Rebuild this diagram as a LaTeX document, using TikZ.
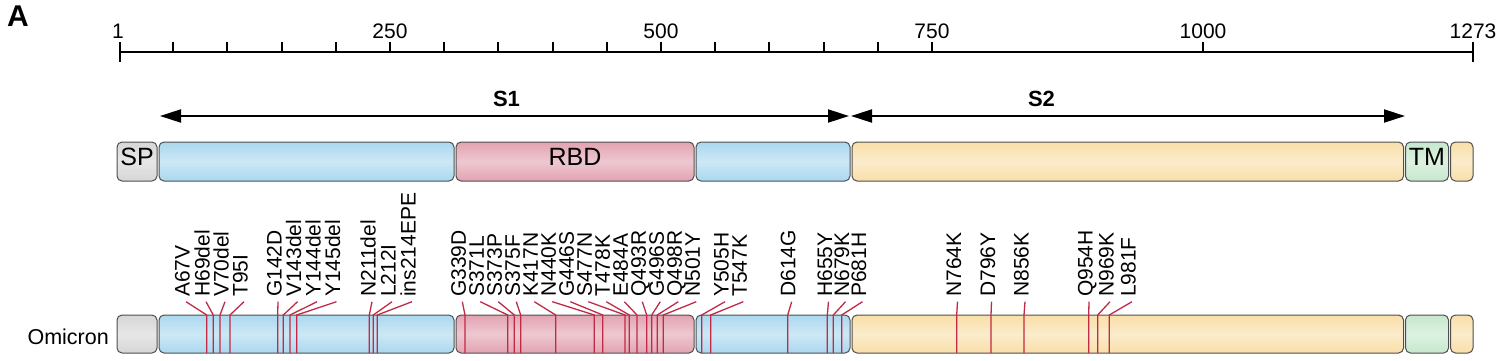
\documentclass[tikz,border=0pt]{standalone}
\usepackage{fontspec}
\setmainfont{Liberation Sans}
\usetikzlibrary{arrows.meta}
\definecolor{cgray}{HTML}{D6D6D6}
\definecolor{cblue}{HTML}{ABD8EF}
\definecolor{cpink}{HTML}{E2A3B1}
\definecolor{cyel}{HTML}{F9DFA9}
\definecolor{cgreen}{HTML}{C6E8CD}
\definecolor{cedge}{HTML}{4E4E4E}
\definecolor{cmut}{HTML}{C02A44}
\begin{document}
\begin{tikzpicture}[x=1pt,y=-1pt,
  seg/.style={draw=cedge, line width=1pt, rounded corners=5pt},
  sh/.style={top color=#1, bottom color=#1, middle color=#1!60!white},
  dlab/.style={inner sep=0pt, text height=0.72em, text depth=0pt, font=\fontsize{25}{29}\selectfont},
  mlab/.style={rotate=90, anchor=west, inner sep=0pt, text height=0.72em, text depth=0pt, font=\fontsize{21}{25}\selectfont},
  mline/.style={draw=cmut, line width=1.3pt},
  tlab/.style={anchor=base, inner sep=0pt, font=\fontsize{21}{25}\selectfont},
  rulerline/.style={line width=2pt, line cap=butt},
  span/.style={line width=2pt, {Triangle[length=21pt,width=13pt]}-{Triangle[length=21pt,width=13pt]}},
  big/.style={inner sep=0pt, font=\fontsize{22}{26}\selectfont\bfseries, anchor=base}
]
\useasboundingbox (0,0) rectangle (1500,360);

% panel letter
\node[anchor=base west, inner sep=0pt, font=\fontsize{30}{34}\selectfont\bfseries] (panel) at (7,26) {A};

% ruler
\coordinate (r0) at (120,52);
\coordinate (r1) at (1473,52);
\draw[rulerline] (r0) -- (r1);
\draw[rulerline] (120,42) -- (120,62);
\draw[rulerline] (1473,42) -- (1473,62);
\foreach \r in {50,100,...,750,1000}
  \draw[rulerline] ({120+1.084*(\r-1)},42) -- ({120+1.084*(\r-1)},52);
\node[tlab] (n1) at (118,38) {1};
\node[tlab] (n250) at (390,38) {250};
\node[tlab] (n500) at (661,38) {500};
\node[tlab] (n750) at (932,38) {750};
\node[tlab] (n1000) at (1203,38) {1000};
\node[tlab] (n1273) at (1473,38) {1273};

% S1 / S2 spans
\coordinate (s1a) at (160,116);
\coordinate (s1b) at (849,116);
\coordinate (s2a) at (851,116);
\coordinate (s2b) at (1405,116);
\draw[span] (s1a) -- (s1b);
\draw[span] (s2a) -- (s2b);
\node[big] (S1) at (506.5,106.5) {S1};
\node[big] (S2) at (1041.5,106.5) {S2};

% domain bars
\foreach \yt/\yb/\tag in {142/181/top, 315/353/bot} {
  \shadedraw[seg, sh=cgray]  (117,\yt) rectangle (157,\yb);
  \shadedraw[seg, sh=cblue]  (159,\yt) rectangle (454,\yb);
  \shadedraw[seg, sh=cpink]  (456,\yt) rectangle (694,\yb);
  \shadedraw[seg, sh=cblue]  (696,\yt) rectangle (850,\yb);
  \shadedraw[seg, sh=cyel]   (852,\yt) rectangle (1403.5,\yb);
  \shadedraw[seg, sh=cgreen] (1405.5,\yt) rectangle (1448.5,\yb);
  \shadedraw[seg, sh=cyel]   (1450.5,\yt) rectangle (1473,\yb);
}
\node[dlab] (SP) at (137,161.5) {SP};
\node[dlab] (RBD) at (575,161.5) {RBD};
\node[dlab] (TM) at (1427,161.5) {TM};

\node[anchor=base east, inner sep=0pt, font=\fontsize{21.5}{25}\selectfont] (omi) at (109,344) {Omicron};

% mutations
\foreach \lx/\mx/\txt [count=\i] in {
  186/206.7/A67V, 206/213.3/H69del, 225/220/V70del, 244/230/T95I,
  278/277.7/G142D, 297.5/283.3/V143del, 317/290/Y144del, 336.5/296.7/Y145del,
  372/369.3/N211del, 392/373.3/L212I, 412/377.3/ins214EPE,
  462.3/465/G339D, 480.3/507.7/S371L, 498.3/514.3/S373P, 516.3/520.7/S375F,
  534.3/555.7/K417N, 552.3/594.3/N440K, 570.3/602.7/G446S, 588.3/625/S477N,
  606.3/629.3/T478K, 624.3/637/E484A, 642.3/646.7/Q493R, 660.3/651.7/G496S,
  678.3/657.3/Q498R, 696.3/663.3/N501Y,
  725/701.7/Y505H, 743.3/710.7/T547K, 791.7/787.7/D614G,
  828.5/827.3/H655Y, 845.5/833.3/N679K, 862.5/841.7/P681H,
  957.5/956.7/N764K, 991.5/991/D796Y, 1025/1024/N856K,
  1089/1088.7/Q954H, 1110/1097.7/N969K, 1132/1109.3/L981F} {
  \node[mlab] (t\i) at (\lx,297) {\txt};
  \coordinate (b\i) at (\mx,315);
  \coordinate (e\i) at (\mx,353);
  \draw[mline] ([yshift=-4.7pt]t\i.west) -- (b\i) -- (e\i);
}
\end{tikzpicture}
\end{document}
